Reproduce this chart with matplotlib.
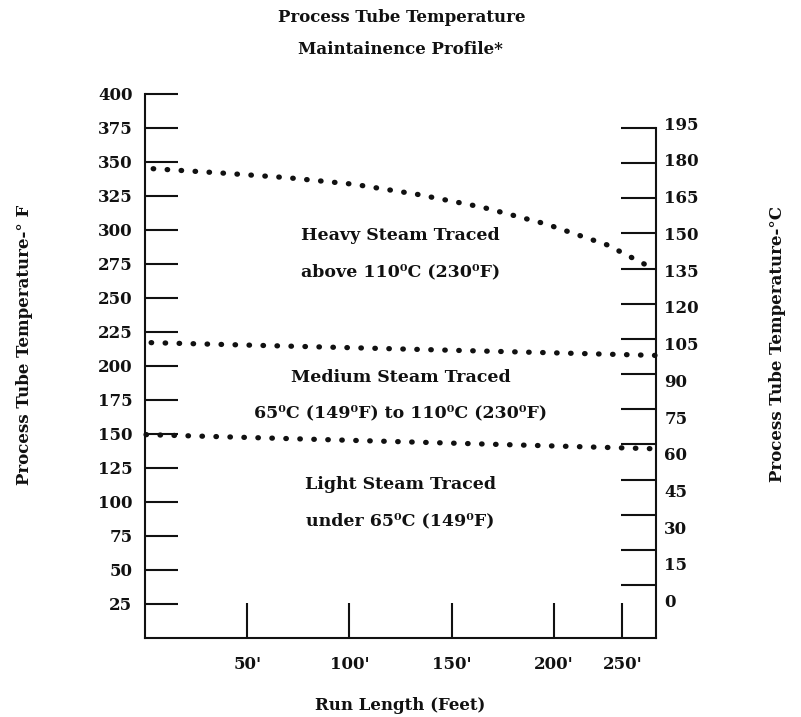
import numpy as np
import matplotlib.pyplot as plt

TEXT = "#111111"
plt.rcParams["font.family"] = ["DejaVu Serif"]
plt.rcParams["font.weight"] = "bold"

# run length (ft) and maintained temperature (deg F) for each tracing band
heavy_x = [4, 36, 69, 102, 133, 165, 196, 226, 245, 250]
heavy_f = [345, 342, 338.5, 333.6, 326.2, 316.7, 304.4, 289, 274.3, 271.3]
medium_x = [3, 250]
medium_f = [217, 207.6]
light_x = [0.5, 247]
light_f = [149.3, 139]

f_ticks = [25, 50, 75, 100, 125, 150, 175, 200, 225, 250, 275, 300, 325, 350, 375, 400]
c_ticks = [0, 15, 30, 45, 60, 75, 90, 105, 120, 135, 150, 165, 180, 195]
x_ticks = [50, 100, 150, 200, 233.5]
x_labels = ["50'", "100'", "150'", "200'", "250'"]

fig = plt.figure(figsize=(8.01, 7.17), dpi=100)
ax = fig.add_axes([145 / 801, 1 - 637.5 / 717, 511 / 801, 543.5 / 717])
ax2 = ax.twinx()

dot = dict(color=TEXT, linewidth=3.8, linestyle=(0, (0.1, 2.55)),
           dash_capstyle="round", clip_on=False)
ax.plot(heavy_x, heavy_f, **dot)
ax.plot(medium_x, medium_f, **dot)
ax.plot(light_x, light_f, **dot)

ax.set_xlim(0, 250)
ax.set_ylim(0, 400)
ax2.set_ylim(-22.4, 209.5)

for a in (ax, ax2):
    a.spines["top"].set_visible(False)
    for s in a.spines.values():
        s.set_linewidth(1.5)
        s.set_color(TEXT)
ax.spines["right"].set_visible(False)
ax2.spines["left"].set_visible(False)
ax2.spines["bottom"].set_visible(False)
ax2.spines["right"].set_bounds(-22.4, 195)

ax.set_yticks(f_ticks)
ax.set_yticklabels([str(v) for v in f_ticks])
ax.tick_params(axis="y", direction="in", length=24, width=1.5, pad=9,
               labelsize=12, colors=TEXT)
ax.set_xticks(x_ticks)
ax.set_xticklabels(x_labels)
ax.tick_params(axis="x", direction="in", length=25, width=1.5, pad=13,
               labelsize=12, colors=TEXT)

# tick marks on the Celsius side, labels sit on a slightly stretched scale
ax2.set_yticks(c_ticks, minor=True)
ax2.tick_params(axis="y", which="minor", direction="in", length=25, width=1.5,
                colors=TEXT)
ax2.set_yticks([-6.7 + c * 1.045 for c in c_ticks])
ax2.set_yticklabels([str(c) for c in c_ticks])
ax2.tick_params(axis="y", which="major", length=0, pad=6, labelsize=12,
                colors=TEXT)

for lab in ax.get_xticklabels() + ax.get_yticklabels() + ax2.get_yticklabels():
    lab.set_fontweight("bold")

notes = [
    (295.6, "Heavy Steam Traced"),
    (269, "above 110\u2070C (230\u2070F)"),
    (191, "Medium Steam Traced"),
    (165, "65\u2070C (149\u2070F) to 110\u2070C (230\u2070F)"),
    (112.5, "Light Steam Traced"),
    (85.5, "under 65\u2070C (149\u2070F)"),
]
for y, s in notes:
    ax.text(125, y, s, ha="center", va="center", fontsize=12.5,
            fontweight="bold", color=TEXT)

fig.text(402 / 801, 1 - 18 / 717, "Process Tube Temperature", ha="center",
         va="center", fontsize=12, fontweight="bold", color=TEXT)
fig.text(400 / 801, 1 - 50 / 717, "Maintainence Profile*", ha="center",
         va="center", fontsize=12, fontweight="bold", color=TEXT)
fig.text(400 / 801, 1 - 706 / 717, "Run Length (Feet)", ha="center",
         va="center", fontsize=12, fontweight="bold", color=TEXT)
fig.text(25 / 801, 1 - 345 / 717, "Process Tube Temperature-\u00b0 F",
         rotation=90, ha="center", va="center", fontsize=12,
         fontweight="bold", color=TEXT)
fig.text(777 / 801, 1 - 344 / 717, "Process Tube Temperature-\u00b0C",
         rotation=90, ha="center", va="center", fontsize=12,
         fontweight="bold", color=TEXT)

fig.savefig("out.png", dpi=100, facecolor="white")
